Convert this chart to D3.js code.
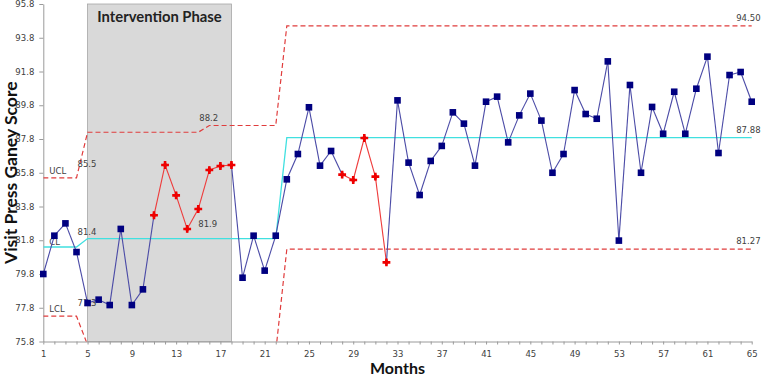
<!DOCTYPE html>
<html><head><meta charset="utf-8">
<script src="https://cdn.jsdelivr.net/npm/d3@7"></script>
<style>body{margin:0;background:#fff}svg{display:block}</style>
</head><body>
<svg id="c" width="762" height="376"></svg>
<script>
const months = d3.range(1, 66);
const scores = [79.8,82.07,82.8,81.1,78.08,78.28,77.96,82.47,77.96,78.89,
 83.28,86.26,84.46,82.47,83.65,85.96,86.2,86.26,79.58,82.07,
 80.0,82.07,85.41,86.91,89.68,86.22,87.09,85.69,85.37,87.86,
 85.57,80.49,90.09,86.4,84.48,86.5,87.39,89.38,88.71,86.22,
 90.01,90.31,87.6,89.2,90.49,88.89,85.8,86.91,90.7,89.28,
 89.0,92.4,81.78,91.0,85.8,89.7,88.11,90.6,88.11,90.78,
 92.68,86.97,91.59,91.77,90.01];
const redMonths = [11,12,13,14,15,16,17,18,28,29,30,31,32];
// control limit step lines: [month, value]
const clLine  = [[1,81.4],[4,81.4],[5,81.9],[22,81.9],[23,87.88],[65,87.88]];
const uclLine = [[1,85.5],[4,85.5],[5,88.2],[15,88.2],[16,88.6],[22,88.6],[23,94.5],[65,94.5]];
const lclLine = [[1,77.3],[4,77.3],[5,75.6],[15,75.6],[16,75.2],[22,75.2],[23,81.27],[65,81.27]];
const yTicks = [75.8,77.8,79.8,81.8,83.8,85.8,87.8,89.8,91.8,93.8,95.8];
const xTickLabels = d3.range(1, 66, 4);
const phase = [5, 18];
const limitLabels = [
  {t:"UCL", m:1, v:85.5, dx:6, dy:-4},
  {t:"85.5", m:4, v:85.5, dx:1, dy:-11},
  {t:"CL", m:1, v:81.4, dx:6, dy:-2},
  {t:"81.4", m:4, v:81.9, dx:1, dy:-4},
  {t:"LCL", m:1, v:77.3, dx:6, dy:-4},
  {t:"77.3", m:4, v:78.08, dx:1, dy:3},
  {t:"88.2", m:15, v:88.2, dx:1, dy:-11},
  {t:"81.9", m:15, v:82.47, dx:0, dy:-2},
  {t:"94.50", m:63.6, v:94.5, dx:0, dy:-5},
  {t:"87.88", m:63.6, v:87.88, dx:0, dy:-5},
  {t:"81.27", m:63.6, v:81.27, dx:0, dy:-5}
];

const svg = d3.select("#c");
const x = d3.scaleLinear().domain([1,65]).range([43.3,751.7]);
const y = d3.scaleLinear().domain([75.8,95.8]).range([341.5,4]);

svg.append("defs").append("clipPath").attr("id","clip")
  .append("rect").attr("x",x(1)).attr("y",y(95.8)).attr("width",x(65)-x(1)+2).attr("height",y(75.8)-y(95.8));

// intervention phase box
svg.append("rect").attr("x",x(phase[0])).attr("y",y(95.8))
  .attr("width",x(phase[1])-x(phase[0])).attr("height",y(75.8)-y(95.8))
  .attr("fill","#d9d9d9").attr("stroke","#a6a6a6").attr("stroke-width",0.8);
svg.append("text").attr("x",(x(phase[0])+x(phase[1]))/2).attr("y",21.5)
  .attr("text-anchor","middle").attr("font-family","Lato, 'Open Sans', sans-serif")
  .attr("font-weight","bold").attr("font-size","14.8px").attr("fill","#222").text("Intervention Phase");

// axes
const yAxis = d3.axisLeft(y).tickValues(yTicks).tickFormat(d3.format(".1f")).tickSize(4).tickSizeOuter(0);
const gy = svg.append("g").attr("transform",`translate(${x(1)},0)`).call(yAxis);
const xAxis = d3.axisBottom(x).tickValues(months).tickFormat(d => xTickLabels.includes(d) ? d : "").tickSize(3).tickSizeOuter(0);
const gx = svg.append("g").attr("transform",`translate(0,${y(75.8)})`).call(xAxis);
[gx,gy].forEach(g=>{
  g.selectAll("path,line").attr("stroke","#9a9a9a");
  g.selectAll("text").attr("font-family","'DejaVu Sans', Verdana, sans-serif").attr("font-size","8.5px").attr("fill","#404040");
});
gx.selectAll("text").attr("dy","1.15em");
gy.selectAll("text").attr("dx","-2");

const line = d3.line().x(d=>x(d[0])).y(d=>y(d[1]));
const lim = svg.append("g").attr("clip-path","url(#clip)");
lim.append("path").attr("d",line(uclLine)).attr("fill","none").attr("stroke","#e03c3c").attr("stroke-width",1.2).attr("stroke-dasharray","5,3");
lim.append("path").attr("d",line(lclLine)).attr("fill","none").attr("stroke","#e03c3c").attr("stroke-width",1.2).attr("stroke-dasharray","5,3");
lim.append("path").attr("d",line(clLine)).attr("fill","none").attr("stroke","#40e0e0").attr("stroke-width",1.3);

// limit labels
svg.append("g").selectAll("text").data(limitLabels).join("text")
  .attr("x",d=>x(d.m)+d.dx).attr("y",d=>y(d.v)+d.dy)
  .attr("font-family","'DejaVu Sans', Verdana, sans-serif").attr("font-size","8.5px").attr("fill","#404040")
  .text(d=>d.t);

// data segments
const pts = months.map((m,i)=>({m, v:scores[i], red: redMonths.includes(m)}));
const segs = pts.slice(1).map((p,i)=>({a:pts[i], b:p}));
svg.append("g").selectAll("line").data(segs).join("line")
  .attr("x1",d=>x(d.a.m)).attr("y1",d=>y(d.a.v)).attr("x2",d=>x(d.b.m)).attr("y2",d=>y(d.b.v))
  .attr("stroke",d=> d.a.red && d.b.red ? "#ee3a3a" : "#4a4aa6").attr("stroke-width",1.1);

svg.append("g").selectAll("rect").data(pts.filter(p=>!p.red)).join("rect")
  .attr("x",d=>x(d.m)-3.3).attr("y",d=>y(d.v)-3.3).attr("width",6.6).attr("height",6.6).attr("fill","#000080");
const redG = svg.append("g").selectAll("g").data(pts.filter(p=>p.red)).join("g")
  .attr("transform",d=>`translate(${x(d.m)},${y(d.v)})`);
redG.append("path").attr("d",d3.symbol(d3.symbolCross,34)).attr("fill","#ee0000");
redG.append("path").attr("d",d3.symbol(d3.symbolDiamond,18)).attr("fill","#ee0000");

// axis titles
svg.append("text").attr("transform",`translate(17,${(y(95.8)+y(75.8))/2}) rotate(-90)`)
  .attr("text-anchor","middle").attr("font-family","Lato, 'Open Sans', sans-serif").attr("font-weight","bold")
  .attr("font-size","17.5px").attr("fill","#111").text("Visit Press Ganey Score");
svg.append("text").attr("x",(x(1)+x(65))/2).attr("y",374)
  .attr("text-anchor","middle").attr("font-family","Lato, 'Open Sans', sans-serif").attr("font-weight","bold")
  .attr("font-size","16px").attr("fill","#111").text("Months");
</script>
</body></html>
